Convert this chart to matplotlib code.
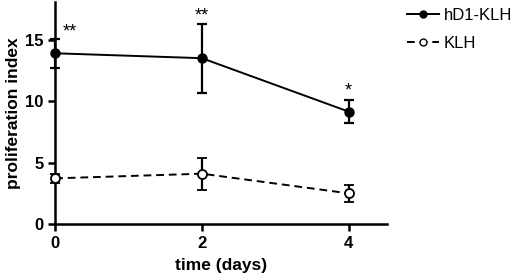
import matplotlib
matplotlib.use("Agg")
import matplotlib.pyplot as plt
from matplotlib.lines import Line2D

plt.rcParams['font.family'] = ['Liberation Sans', 'DejaVu Sans']

days = [0, 2, 4]
hd1_mean = [13.9, 13.5, 9.15]
hd1_err = [1.2, 2.8, 0.95]
klh_mean = [3.72, 4.1, 2.5]
klh_err = [0.35, 1.3, 0.7]
stars_text = ["**", "**", "*"]
stars_y = [15.6, 16.9, 10.8]
star_dx = [0.2, 0.0, 0.0]

fig = plt.figure(figsize=(5.2, 2.78), dpi=100)
ax = fig.add_axes([0.106, 0.194, 0.638, 0.80])

dash = (0, (4, 2.5))
ax.errorbar(days, hd1_mean, yerr=hd1_err, color='black', lw=1.4, marker='o',
            ms=6.5, mfc='black', mec='black', capsize=3.5, elinewidth=1.6,
            capthick=1.6, clip_on=False, zorder=4)
ax.errorbar(days, klh_mean, yerr=klh_err, color='black', lw=1.4, marker='o',
            ms=6.5, mfc='white', mec='black', mew=1.3, capsize=3.5, elinewidth=1.6,
            capthick=1.6, linestyle=dash, clip_on=False, zorder=4)

for d, s, y, dx in zip(days, stars_text, stars_y, star_dx):
    ax.text(d + dx, y, s, ha='center', va='center', fontsize=13)

ax.set_xlim(0, 4.52)
ax.set_ylim(0, 18.1)
ax.set_xticks([0, 2, 4])
ax.set_yticks([0, 5, 10, 15])
for sp in ('top', 'right'):
    ax.spines[sp].set_visible(False)
for sp in ('left', 'bottom'):
    ax.spines[sp].set_linewidth(1.8)
ax.tick_params(width=1.8, length=5, labelsize=12, direction='out')
for lab in ax.get_xticklabels() + ax.get_yticklabels():
    lab.set_fontweight('bold')
ax.set_xlabel('time (days)', fontsize=12.5, fontweight='bold', labelpad=5)
ax.set_ylabel('proliferation index', fontsize=12.5, fontweight='bold', labelpad=3)

handles = [
    Line2D([], [], color='black', lw=1.4, marker='o', ms=5, mfc='black'),
    Line2D([], [], color='black', lw=1.4, marker='o', ms=5, mfc='white', linestyle=dash),
]
labels = ['hD1-KLH', 'KLH']
fig.legend(handles, labels, loc='upper left', bbox_to_anchor=(0.77, 0.995),
           frameon=False, fontsize=12, handlelength=1.9, handletextpad=0.3,
           labelspacing=0.75, borderaxespad=0.1, borderpad=0.3)

fig.savefig('out.png', dpi=100)
